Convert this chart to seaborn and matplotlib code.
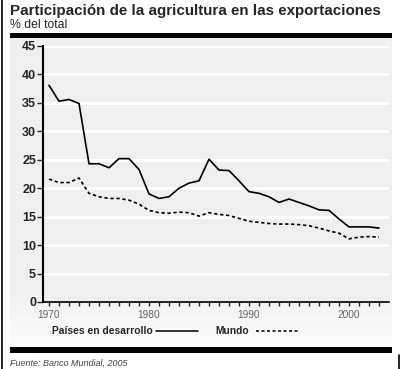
import numpy as np
import pandas as pd
import matplotlib
matplotlib.use("Agg")
import matplotlib.pyplot as plt
import seaborn as sns

# data
years = list(range(1970, 2004))
desarrollo = [38.1, 35.3, 35.6, 34.9, 24.3, 24.3, 23.6, 25.2, 25.2, 23.3,
              19.0, 18.2, 18.5, 20.0, 20.9, 21.3, 25.1, 23.2, 23.1, 21.3,
              19.4, 19.1, 18.5, 17.5, 18.1, 17.5, 16.9, 16.2, 16.1, 14.6,
              13.2, 13.2, 13.2, 13.0]
mundo = [21.6, 21.0, 21.0, 21.8, 19.1, 18.5, 18.2, 18.2, 17.9, 17.2,
         16.1, 15.7, 15.6, 15.8, 15.7, 15.1, 15.7, 15.4, 15.2, 14.7,
         14.2, 14.0, 13.8, 13.7, 13.7, 13.6, 13.4, 13.0, 12.5, 12.1,
         11.1, 11.4, 11.5, 11.4]
yticks = list(range(0, 50, 5))
xlabels = [1970, 1980, 1990, 2000]

sns.set_style("white")
plt.rcParams['font.family'] = ['Liberation Sans', 'DejaVu Sans']

W, H = 400, 369
fig = plt.figure(figsize=(W / 100, H / 100), dpi=100)

def fx(x):
    return x / W

def fy(y):
    return 1 - y / H

# background panel with a light gradient towards the bottom
bg = fig.add_axes([fx(10), fy(347), fx(392) - fx(10), fy(38) - fy(347)], zorder=0)
grad = np.ones((100, 1))
grad[80:, 0] = np.linspace(1, 0, 20)
bg.imshow(grad, aspect='auto', cmap=matplotlib.colors.LinearSegmentedColormap.from_list(
    'g', ['#fdfdfd', '#efefef']), vmin=0, vmax=1, extent=[0, 1, 0, 1])
bg.axis('off')

# frame lines and thick bars
fig.add_artist(plt.Line2D([fx(2), fx(2)], [0, 1], color='black', lw=1.2))
fig.add_artist(plt.Line2D([fx(398.5), fx(398.5)], [0, fy(355)], color='black', lw=1.2))
fig.add_artist(plt.Rectangle((fx(10), fy(37.5)), fx(392) - fx(10), fy(33) - fy(37.5),
                             color='black', lw=0))
fig.add_artist(plt.Rectangle((fx(10), fy(353)), fx(392) - fx(10), fy(347) - fy(353),
                             color='black', lw=0))

fig.text(fx(10), fy(15), 'Participación de la agricultura en las exportaciones',
         fontsize=10.9, fontweight='bold', va='baseline')
fig.text(fx(10), fy(27.5), '% del total', fontsize=8.8, va='baseline')
fig.text(fx(10), fy(366), 'Fuente: Banco Mundial, 2005', fontsize=6.5,
         style='italic', color='#444444', va='baseline')

ax = fig.add_axes([fx(43), fy(302), fx(389) - fx(43), fy(46) - fy(302)], zorder=1)
ax.set_facecolor('#efefef')
df = pd.DataFrame({'year': years, 'desarrollo': desarrollo, 'mundo': mundo})
sns.lineplot(data=df, x='year', y='desarrollo', ax=ax, color='black', lw=1.2)
sns.lineplot(data=df, x='year', y='mundo', ax=ax, color='black', lw=1.2,
             linestyle=(0, (2, 1.6)))

ax.set_xlim(1969.4, 2004.0)
ax.set_ylim(0, 45)
ax.set_yticks(yticks)
for v in yticks[1:]:
    ax.axhline(v, color='white', lw=2.2, zorder=0)
ax.set_xticks(xlabels)
ax.set_xticks(years, minor=True)
ax.tick_params(axis='x', which='both', direction='out', length=3, width=1,
               labelsize=7.3, labelcolor='#666666', pad=3, bottom=True)
ax.tick_params(axis='y', direction='out', length=4, width=1, labelsize=9, pad=1, left=True)
for lab in ax.get_yticklabels():
    lab.set_fontweight('bold')
ax.set_xlabel('')
ax.set_ylabel('')
for s in ['top', 'right']:
    ax.spines[s].set_visible(False)
ax.spines['left'].set_linewidth(1.5)
ax.spines['bottom'].set_linewidth(1.2)
ax.spines['left'].set_color('black')
ax.spines['bottom'].set_color('black')

# legend drawn as text + line samples below the axis
fig.text(fx(52), fy(334), 'Países en desarrollo', fontsize=7.4, fontweight='bold', va='baseline')
fig.add_artist(plt.Line2D([fx(156), fx(198)], [fy(330.5), fy(330.5)], color='black', lw=1.1))
fig.text(fx(215), fy(334), 'Mundo', fontsize=7.4, fontweight='bold', va='baseline')
fig.add_artist(plt.Line2D([fx(256), fx(299)], [fy(330.5), fy(330.5)], color='black', lw=1.1,
                          linestyle=(0, (2, 1.6))))

fig.savefig('out.png', dpi=100)
